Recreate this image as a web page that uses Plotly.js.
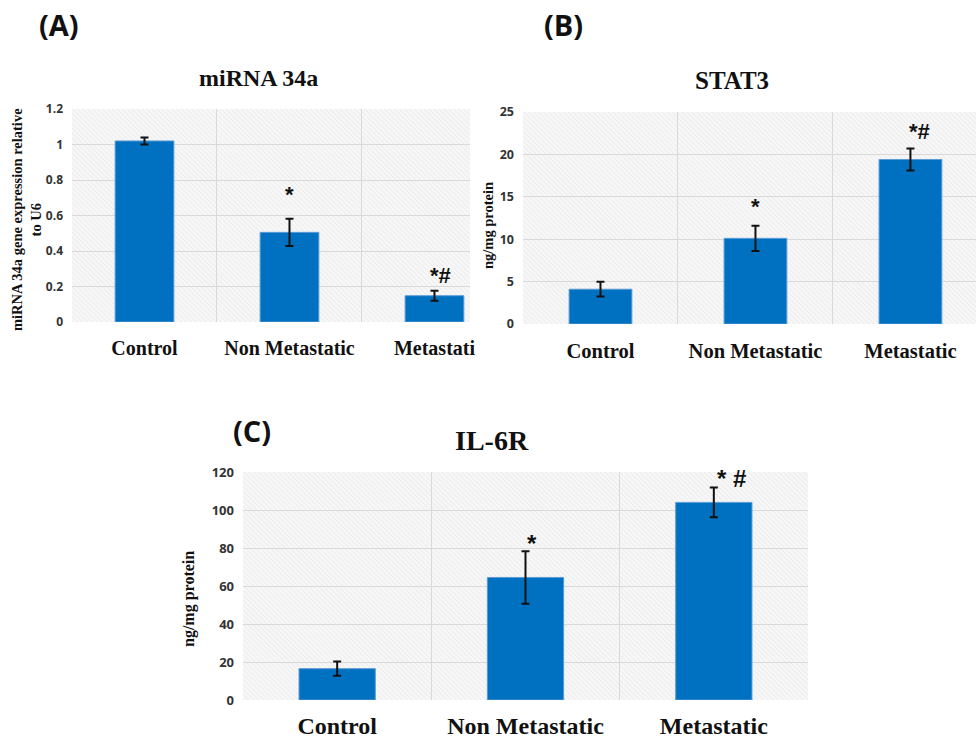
<!DOCTYPE html>
<html>
<head>
<meta charset="utf-8">
<script src="https://cdn.plot.ly/plotly-3.0.1.min.js"></script>
<style>
html,body{margin:0;padding:0;background:#fff;}
#chart{width:976px;height:742px;}
</style>
</head>
<body>
<div id="chart"></div>
<script>
// ---- data ----
var categories = ["Control", "Non Metastatic", "Metastatic"];
var labelsA = ["Control", "Non Metastatic", "Metastati"];
var labelsB = ["Control", "Non Metastatic", "Metastatic"];
var labelsC = ["Control", "Non Metastatic", "Metastatic"];

var mirnaValues = [1.02, 0.505, 0.148];
var mirnaErrors = [0.02, 0.077, 0.028];
var mirnaSig = ["", "*", "*#"];

var stat3Values = [4.1, 10.1, 19.4];
var stat3Errors = [0.87, 1.5, 1.3];
var stat3Sig = ["", "*", "*#"];

var il6rValues = [16.5, 64.5, 104];
var il6rErrors = [3.7, 13.8, 7.8];
var il6rSig = ["", "*", "* #"];

var titles = ["miRNA 34a", "STAT3", "IL-6R"];
var panelLetters = ["(A)", "(B)", "(C)"];
var yTitles = ["miRNA 34a gene expression relative<br>to U6", "ng/mg protein", "ng/mg protein"];

// ---- geometry (pixels) ----
var W = 976, H = 742;
function px(x){ return x / W; }
function py(y){ return 1 - y / H; }

var panels = [
  {xa: "x",  ya: "y",  left: 72,  right: 470, top: 109, bottom: 322, range: [-0.5, 2.245], yr: [0, 1.2], dt: 0.2,
   vals: mirnaValues, errs: mirnaErrors, sig: mirnaSig, labels: labelsA, tickSize: 20, yTickSize: 12, stand: 12,
   sigShift: [0, 10, 1], sigDx: [0, 0, 6], sigSize: 22},
  {xa: "x2", ya: "y2", left: 523, right: 976, top: 112, bottom: 324, range: [-0.5, 2.423], yr: [0, 25], dt: 5,
   vals: stat3Values, errs: stat3Errors, sig: stat3Sig, labels: labelsB, tickSize: 20.5, yTickSize: 12.5, stand: 12,
   sigShift: [0, 5, 2], sigDx: [0, 0, 9], sigSize: 22},
  {xa: "x3", ya: "y3", left: 243, right: 808, top: 472, bottom: 700, range: [-0.5, 2.5], yr: [0, 120], dt: 20,
   vals: il6rValues, errs: il6rErrors, sig: il6rSig, labels: labelsC, tickSize: 24, yTickSize: 13, stand: 9,
   sigShift: [0, -8, -6], sigDx: [0, 6, 18], sigSize: 24}
];

function hatchURI(w, h){
  var svg = '<svg xmlns="http://www.w3.org/2000/svg" width="' + w + '" height="' + h + '" viewBox="0 0 ' + w + ' ' + h + '">' +
    '<defs><pattern id="p" width="3.5" height="3.5" patternUnits="userSpaceOnUse" patternTransform="rotate(-45)">' +
    '<rect width="3.5" height="3.5" fill="#f7f7f7"/><line x1="0" y1="0" x2="0" y2="3.5" stroke="#e2e2e2" stroke-width="1"/></pattern></defs>' +
    '<rect width="' + w + '" height="' + h + '" fill="url(#p)"/></svg>';
  return 'data:image/svg+xml;charset=utf-8,' + encodeURIComponent(svg);
}

var serif = "Liberation Serif, Times New Roman, serif";
var sans = "Open Sans, Liberation Sans, sans-serif";

var traces = [];
var layout = {
  width: W, height: H,
  margin: {l: 0, r: 0, t: 0, b: 0},
  paper_bgcolor: "#ffffff",
  plot_bgcolor: "rgba(0,0,0,0)",
  showlegend: false,
  annotations: [],
  images: []
};

panels.forEach(function(p, i){
  var n = i === 0 ? "" : String(i + 1);
  traces.push({
    type: "bar",
    x: categories,
    y: p.vals,
    xaxis: p.xa, yaxis: p.ya,
    width: 0.405,
    marker: {color: "#0070c0", line: {color: "#5b9bd5", width: 1}},
    error_y: {type: "data", array: p.errs, visible: true, color: "#111111", thickness: 2, width: 4},
    hoverinfo: "x+y"
  });
  layout["xaxis" + n] = {
    domain: [px(p.left), px(p.right)],
    anchor: p.ya,
    type: "category",
    range: p.range,
    tickmode: "array",
    tickvals: categories,
    ticktext: p.labels,
    tickson: "boundaries",
    ticks: "",
    showgrid: true,
    gridcolor: "#d9d9d9",
    gridwidth: 1,
    showline: false,
    zeroline: false,
    ticklabelstandoff: p.stand,
    tickfont: {family: serif, size: p.tickSize, color: "#111111", weight: "bold"},
    fixedrange: true
  };
  layout["yaxis" + n] = {
    domain: [py(p.bottom), py(p.top)],
    anchor: p.xa,
    range: p.yr,
    dtick: p.dt,
    tick0: 0,
    showgrid: true,
    gridcolor: "#d9d9d9",
    gridwidth: 1,
    zeroline: false,
    showline: false,
    ticks: "",
    ticklabelstandoff: 8,
    tickfont: {family: sans, size: p.yTickSize, color: "#333333", weight: "bold"},
    fixedrange: true
  };
  layout.images.push({
    source: hatchURI(p.right - p.left, p.bottom - p.top),
    xref: "paper", yref: "paper",
    x: px(p.left), y: py(p.top),
    sizex: px(p.right - p.left), sizey: (p.bottom - p.top) / H,
    xanchor: "left", yanchor: "top",
    sizing: "stretch", layer: "below"
  });
  // significance markers above error bars
  p.sig.forEach(function(s, k){
    if (!s) return;
    layout.annotations.push({
      xref: p.xa, yref: p.ya,
      x: categories[k], y: p.vals[k] + p.errs[k],
      xanchor: "center", yanchor: "bottom",
      xshift: p.sigDx[k], yshift: p.sigShift[k],
      text: s, showarrow: false,
      font: {family: "Liberation Sans, Arial, sans-serif", size: p.sigSize, color: "#111111", weight: "bold"}
    });
  });
});

// panel titles and letters
var titlePos = [[258, 78, 24], [732, 80, 25], [492, 440, 28]];
var letterPos = [[59, 25], [563, 25], [252, 430]];
titles.forEach(function(t, i){
  layout.annotations.push({
    xref: "paper", yref: "paper", x: px(titlePos[i][0]), y: py(titlePos[i][1]),
    xanchor: "center", yanchor: "middle", showarrow: false, text: t,
    font: {family: serif, size: titlePos[i][2], color: "#111111", weight: "bold"}
  });
  layout.annotations.push({
    xref: "paper", yref: "paper", x: px(letterPos[i][0]), y: py(letterPos[i][1]),
    xanchor: "center", yanchor: "middle", showarrow: false, text: panelLetters[i],
    font: {family: sans, size: 29, color: "#111111", weight: "bold"}
  });
});

// y-axis titles
var yTitlePos = [[26, 220, 14.5], [488, 226, 14.5], [189, 599, 16]];
yTitles.forEach(function(t, i){
  layout.annotations.push({
    xref: "paper", yref: "paper", x: px(yTitlePos[i][0]), y: py(yTitlePos[i][1]),
    xanchor: "center", yanchor: "middle", showarrow: false, textangle: -90, text: t,
    font: {family: serif, size: yTitlePos[i][2], color: "#111111", weight: "bold"}
  });
});

Plotly.newPlot("chart", traces, layout, {displayModeBar: false, staticPlot: true});
</script>
</body>
</html>
